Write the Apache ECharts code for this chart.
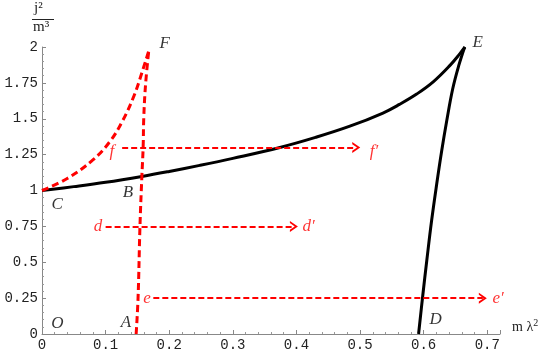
<!DOCTYPE html>
<html>
<head>
<meta charset="utf-8">
<script src="https://cdn.jsdelivr.net/npm/echarts@6/dist/echarts.min.js"></script>
<style>
  html, body { margin: 0; padding: 0; background: #fff; }
  #chart { width: 545px; height: 352px; }
</style>
</head>
<body>
<div id="chart"></div>
<script>
// curve C -> E (black)
const ceX = [0, 0.05, 0.1, 0.157, 0.2, 0.248, 0.3, 0.374, 0.43, 0.484, 0.536, 0.562, 0.589, 0.615, 0.641, 0.657, 0.665];
const ceY = [1, 1.027, 1.057, 1.098, 1.133, 1.175, 1.224, 1.30, 1.37, 1.448, 1.54, 1.60, 1.672, 1.757, 1.87, 1.954, 2.0];
// curve D -> E (black)
const deX = [0.592, 0.5985, 0.605, 0.6126, 0.6205, 0.6283, 0.6362, 0.6456, 0.655, 0.6645];
const deY = [0, 0.265, 0.516, 0.794, 1.045, 1.275, 1.484, 1.707, 1.868, 2.0];
// curve A -> F (red dashed)
const afX = [0.148, 0.151, 0.154, 0.157, 0.159, 0.160, 0.163, 0.168];
const afY = [0, 0.25, 0.75, 1.10, 1.30, 1.51, 1.75, 1.98];
// curve C -> F (red dashed)
const cfX = [0, 0.039, 0.080, 0.107, 0.127, 0.145, 0.157, 0.168];
const cfY = [1, 1.082, 1.213, 1.343, 1.488, 1.664, 1.82, 1.976];
// horizontal arrows f->f', d->d', e->e'
const arrowY = [1.3, 0.75, 0.25];
const arrowStart = [0.126, 0.1, 0.175];
const arrowEnd = [0.494, 0.396, 0.693];
// point letters
const letterNames = ['F', 'E', 'C', 'B', 'A', 'O', 'D', 'f', 'd', 'e', 'f\u2032', 'd\u2032', 'e\u2032'];
const letterX = [0.193, 0.685, 0.024, 0.135, 0.132, 0.024, 0.619, 0.110, 0.088, 0.165, 0.522, 0.419, 0.717];
const letterY = [2.025, 2.03, 0.90, 0.985, 0.08, 0.07, 0.098, 1.27, 0.75, 0.25, 1.27, 0.75, 0.25];
const letterRed = [false, false, false, false, false, false, false, true, true, true, true, true, true];

const zip = (xs, ys) => xs.map((x, i) => [x, ys[i]]);
const chevron = 'path://M0,10 L5,0 L10,10 L8,10 L5,4 L2,10 Z';

// smooth curve through the read points, placed with the chart's own axes
function curve(name, xs, ys, style) {
    return {
        name: name, type: 'custom', coordinateSystem: 'cartesian2d', silent: true,
        data: zip(xs, ys),
        renderItem: function (params, api) {
            if (params.dataIndex !== 0) return;
            const pts = xs.map((x, i) => api.coord([x, ys[i]]));
            return {
                type: 'polyline',
                shape: { points: pts, smooth: 0.4 },
                style: Object.assign({ fill: null, lineJoin: 'round' }, style)
            };
        }
    };
}

let myChart = echarts.init(document.getElementById('chart'));

const axisCommon = {
    axisLine: { lineStyle: { color: '#888', width: 1 } },
    axisTick: { inside: true, length: 4, lineStyle: { color: '#888' } },
    minorTick: { show: true, splitNumber: 5, length: 2, lineStyle: { color: '#999' } },
    splitLine: { show: false },
    axisLabel: { fontFamily: 'Liberation Mono', fontSize: 14, color: '#222' }
};

let option = {
    animation: false,
    grid: { left: 42, right: 45, top: 47, bottom: 18 },
    xAxis: Object.assign({}, axisCommon, {
        type: 'value', min: 0, max: 0.72, interval: 0.1,
        axisLabel: Object.assign({}, axisCommon.axisLabel, {
            margin: 4,
            formatter: function (v) {
                return Math.abs(v * 10 - Math.round(v * 10)) < 1e-6 ? String(v) : '';
            }
        }),
        name: '{m|m \u03bb}{s|2}', nameLocation: 'end', nameGap: 12,
        nameTextStyle: {
            padding: [0, 0, 14, 0],
            rich: {
                m: { fontFamily: 'Liberation Serif', fontSize: 14, color: '#222' },
                s: { fontFamily: 'Liberation Serif', fontSize: 10, color: '#222', verticalAlign: 'top', padding: [0, 0, 8, 0] }
            }
        }
    }),
    yAxis: Object.assign({}, axisCommon, {
        type: 'value', min: 0, max: 2, interval: 0.25,
        axisLabel: Object.assign({}, axisCommon.axisLabel, { margin: 4 })
    }),
    graphic: [
        { type: 'text', left: 34, top: 1, style: { text: 'j\u00b2', font: '15px "Liberation Serif"', fill: '#222' } },
        { type: 'line', shape: { x1: 32, y1: 19.5, x2: 54, y2: 19.5 }, style: { stroke: '#222', lineWidth: 1 } },
        { type: 'text', left: 33, top: 20, style: { text: 'm\u00b3', font: '15px "Liberation Serif"', fill: '#222' } }
    ],
    series: [
        curve('CE', ceX, ceY, { stroke: '#000', lineWidth: 3 }),
        curve('DE', deX, deY, { stroke: '#000', lineWidth: 3 }),
        curve('AF', afX, afY, { stroke: '#ff0000', lineWidth: 3, lineDash: [7, 4] }),
        curve('CF', cfX, cfY, { stroke: '#ff0000', lineWidth: 3, lineDash: [7, 4] }),
        {
            name: 'arrows', type: 'line', data: [], symbol: 'none',
            markLine: {
                silent: true,
                symbol: ['none', chevron],
                symbolSize: [11, 8],
                label: { show: false },
                lineStyle: { color: '#ff0000', width: 2, type: [6, 3] },
                data: arrowY.map((y, i) => [{ coord: [arrowStart[i], y] }, { coord: [arrowEnd[i], y] }])
            }
        },
        {
            name: 'letters', type: 'scatter', symbolSize: 0, silent: true, clip: false,
            data: letterNames.map((n, i) => ({
                name: n,
                value: [letterX[i], letterY[i]],
                label: { color: letterRed[i] ? '#ff0000' : '#000' }
            })),
            label: {
                show: true, position: 'inside', formatter: '{b}',
                fontFamily: 'Liberation Serif', fontStyle: 'italic', fontSize: 17
            }
        }
    ]
};
myChart.setOption(option);
</script>
</body>
</html>
